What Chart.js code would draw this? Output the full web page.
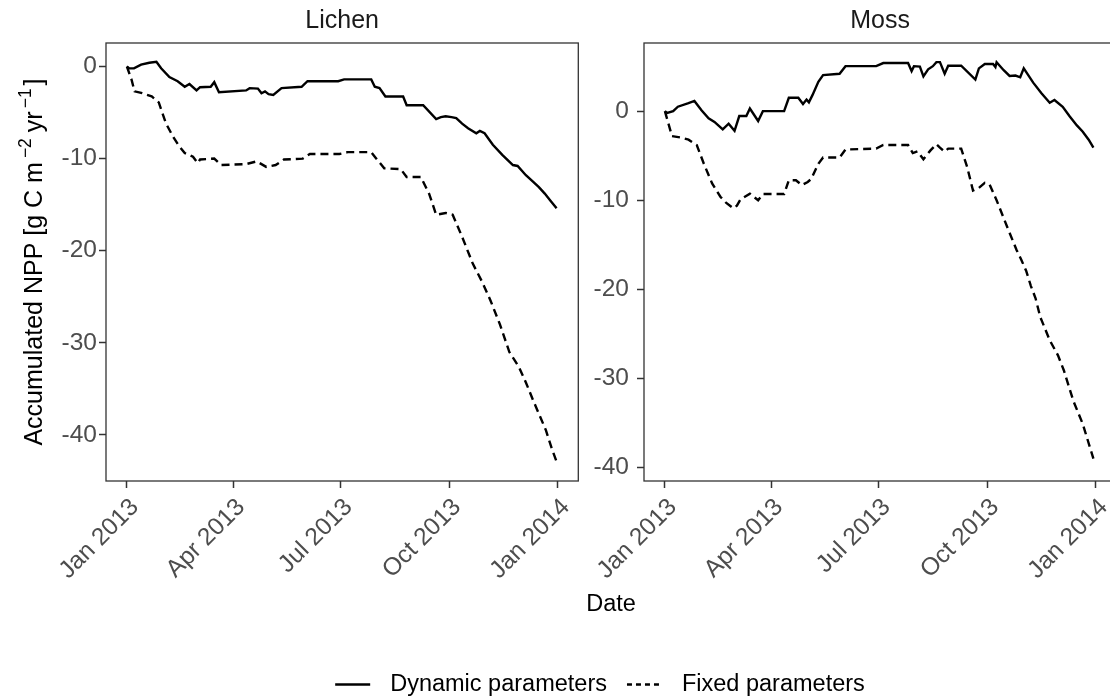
<!DOCTYPE html>
<html>
<head>
<meta charset="utf-8">
<title>Accumulated NPP</title>
<script src="https://cdn.jsdelivr.net/npm/chart.js@4/dist/chart.umd.min.js"></script>
<style>
  html, body {margin: 0; padding: 0; background: #fff;}
  #fig {position: relative; width: 1110px; height: 700px; overflow: hidden; background: #fff;}
  #fig canvas {position: absolute;}
  #xtitle {position: absolute; left: 0; width: 1222px; top: 590px; text-align: center;
    font: 23.5px "Liberation Sans", Arial, sans-serif; line-height: 26px; color: #000;}
</style>
</head>
<body>
<div id="fig">
  <canvas id="lichen" width="600" height="600" style="left:0;top:0"></canvas>
  <canvas id="moss" width="560" height="600" style="left:570px;top:0"></canvas>
  <div id="xtitle">Date</div>
  <canvas id="legend" width="1200" height="60" style="left:0;top:640px"></canvas>
</div>
<script>
const FONT = "'Liberation Sans', Arial, sans-serif";

//Days since 1 Jan 2013
const tickDays = [0, 90, 181, 273, 365];
const tickLabels = ["Jan 2013", "Apr 2013", "Jul 2013", "Oct 2013", "Jan 2014"];
const yTicks = [0, -10, -20, -30, -40];
const seriesNames = ["Dynamic parameters", "Fixed parameters"];

const lichenDynDays = [0, 2, 6, 12, 19, 25, 29, 36, 43, 49, 53, 59, 62, 71, 74, 78, 101, 104, 111, 114, 117, 120, 124, 131,
	148, 153, 179, 184, 207, 210, 214, 219, 234, 237, 251, 262, 266, 270, 275, 279, 284, 289, 296, 299, 303, 310, 318,
	327, 331, 338, 344, 349, 354, 359, 364];
const lichenDynVals = [0, -0.2, -0.2, 0.2, 0.4, 0.5, -0.2, -1.15, -1.6, -2.2, -1.9, -2.6, -2.25, -2.2, -1.7, -2.8, -2.6,
	-2.35, -2.4, -2.9, -2.7, -3.0, -3.1, -2.35, -2.2, -1.6, -1.6, -1.4, -1.4, -2.2, -2.35, -3.25, -3.25, -4.2, -4.2, -5.7,
	-5.5, -5.4, -5.5, -5.6, -6.2, -6.7, -7.25, -7.0, -7.25, -8.5, -9.6, -10.7, -10.8, -11.8, -12.5, -13.1, -13.8, -14.6, -15.4];

const lichenFixDays = [0, 4, 6.5, 13, 21, 27, 33, 39, 44, 49, 56, 60, 62, 74, 80, 101, 110, 114, 118, 126, 133, 149, 155,
	180, 187, 207, 211, 218, 232, 237, 249, 256, 262, 270, 276, 284, 293, 301, 308, 316, 324, 328, 332, 338, 344, 350, 355,
	360, 364];
const lichenFixVals = [0, -1.45, -2.7, -2.9, -3.25, -3.9, -6.15, -7.6, -8.6, -9.4, -9.8, -10.5, -10.1, -10.0, -10.7, -10.6,
	-10.3, -10.6, -10.9, -10.7, -10.1, -10.0, -9.5, -9.5, -9.3, -9.3, -9.95, -11.05, -11.15, -12.0, -12.0, -13.8, -16.1,
	-15.9, -16.1, -18.5, -21.4, -23.4, -25.4, -28.0, -31.0, -31.8, -32.6, -34.3, -36.2, -38.0, -39.5, -41.5, -42.9];

const mossDynDays = [0, 2, 7, 11, 20, 25, 31, 37, 42, 49, 54, 59, 63, 69, 72, 79, 83, 101, 105, 113, 117, 120, 122, 125,
	130, 134, 148, 153, 179, 185, 206, 209, 211, 216, 219, 223, 227, 230, 233, 237, 240, 251, 263, 266, 271, 278, 280, 281,
	287, 292, 297, 301, 304, 312, 319, 326, 330, 337, 343, 349, 354, 359, 363];
const mossDynVals = [0, -0.2, 0, 0.5, 0.9, 1.15, 0.1, -0.8, -1.2, -2.05, -1.4, -2.2, -0.55, -0.55, 0.3, -1.1, 0, 0, 1.5,
	1.5, 0.8, 1.3, 1.0, 1.8, 3.3, 4.05, 4.2, 5.05, 5.05, 5.4, 5.4, 4.5, 5.05, 5.0, 3.9, 4.7, 5.05, 5.5, 5.5, 4.2, 5.1, 5.1,
	3.55, 4.8, 5.3, 5.3, 4.95, 5.5, 4.6, 3.95, 4.0, 3.8, 4.8, 3.2, 2.0, 0.95, 1.25, 0.5, -0.6, -1.6, -2.3, -3.2, -4.1];

const mossFixDays = [0, 3, 6, 13, 20, 27, 33, 40, 47, 52, 58, 61, 64, 72, 79, 83, 101, 105, 111, 116, 121, 124, 130, 134,
	148, 153, 179, 185, 206, 210, 214, 219, 225, 230, 233, 237, 240, 251, 256, 261, 266, 271, 275, 281, 290, 298, 302, 306,
	310, 314, 318, 326, 333, 338, 346, 354, 363];
const mossFixVals = [0, -1.4, -2.8, -2.95, -3.2, -3.8, -5.9, -8.1, -9.6, -10.3, -10.9, -10.6, -9.9, -9.25, -10.0, -9.3,
	-9.3, -7.75, -7.75, -8.3, -7.95, -7.6, -5.9, -5.2, -5.2, -4.3, -4.2, -3.8, -3.8, -4.7, -4.5, -5.4, -4.4, -3.7, -4.1,
	-4.55, -4.2, -4.2, -6.25, -8.9, -8.6, -8.05, -8.2, -10.0, -13.0, -15.6, -16.7, -17.9, -19.6, -21.0, -23.1, -25.7,
	-27.4, -29.1, -32.5, -35.1, -39.0];

const X_MIN = -17.7, X_MAX = 382.4;
const TEXT = 23.5;
const TICK_TEXT = 24.5;
const LINE_W = 2.4;
const DASH = [8, 5];

function pts(days, vals) {
	return days.map((d, i) => ({x: d, y: vals[i]}));
}

//Box round the panel, like a ggplot panel.border
const panelBorder = {
	id: "panelBorder",
	afterDraw(chart) {
		const {ctx, chartArea: a} = chart;
		ctx.save();
		ctx.strokeStyle = "#333";
		ctx.lineWidth = 1.3;
		ctx.strokeRect(a.left, a.top, a.right - a.left, a.bottom - a.top);
		ctx.restore();
	},
};

function stripLabel(text) {
	return {
		id: "stripLabel",
		afterDraw(chart) {
			const {ctx, chartArea: a} = chart;
			ctx.save();
			ctx.font = "25px " + FONT;
			ctx.fillStyle = "#1a1a1a";
			ctx.textAlign = "center";
			ctx.textBaseline = "alphabetic";
			ctx.fillText(text, (a.left + a.right) / 2, a.top - 15);
			ctx.restore();
		},
	};
}

//Rotated y title with superscript units
const yTitle = {
	id: "yTitle",
	afterDraw(chart) {
		const {ctx, chartArea: a} = chart;
		const big = 25, sup = 17.5, rise = 11;
		const parts = [
			["Accumulated NPP [g C m", big, 0, 0],
			["\u22122", sup, rise, 4],
			["yr", big, 0, 6],
			["\u22121", sup, rise, 3],
			["]", big, 0, 3],
		];
		ctx.save();
		ctx.fillStyle = "#000";
		ctx.textBaseline = "alphabetic";
		ctx.textAlign = "left";
		let total = 0;
		const widths = parts.map(([t, size, , gap]) => {
			ctx.font = size + "px " + FONT;
			const w = ctx.measureText(t).width + gap;
			total += w;
			return w;
		});
		ctx.translate(42, (a.top + a.bottom) / 2);
		ctx.rotate(-Math.PI / 2);
		let x = -total / 2;
		parts.forEach(([t, size, r, gap], i) => {
			ctx.font = size + "px " + FONT;
			ctx.fillText(t, x + gap, -r);
			x += widths[i];
		});
		ctx.restore();
	},
};

const tickGrid = {drawOnChartArea: false, drawTicks: true, tickLength: 7, tickWidth: 1.5, tickColor: "#333"};

function panel(id, name, yMin, yMax, yWidth, yPad, padRight, dyn, fix, extra) {
	return new Chart(document.getElementById(id), {
		type: "line",
		data: {
			datasets: [
				{label: seriesNames[0], data: dyn, borderColor: "#000", borderWidth: LINE_W, pointRadius: 0, tension: 0, fill: false},
				{label: seriesNames[1], data: fix, borderColor: "#000", borderWidth: LINE_W, borderDash: DASH, pointRadius: 0, tension: 0, fill: false},
			],
		},
		options: {
			responsive: false,
			animation: false,
			events: [],
			layout: {padding: {top: 43, right: padRight, bottom: 0, left: 0}},
			plugins: {legend: {display: false}, tooltip: {enabled: false}},
			scales: {
				x: {
					type: "linear", min: X_MIN, max: X_MAX,
					afterBuildTicks: s => {s.ticks = tickDays.map(v => ({value: v}));},
					afterFit: s => {s.height = 600 - 481; s.paddingLeft = 0; s.paddingRight = 0;},
					grid: tickGrid,
					border: {display: false},
					ticks: {
						autoSkip: false, minRotation: 45, maxRotation: 45, padding: 5, labelOffset: 8,
						color: "#4d4d4d", font: {family: FONT, size: TICK_TEXT},
						callback: (v, i) => tickLabels[i],
					},
				},
				y: {
					type: "linear", min: yMin, max: yMax,
					afterBuildTicks: s => {s.ticks = yTicks.map(v => ({value: v}));},
					afterFit: s => {s.width = yWidth; s.paddingTop = 0; s.paddingBottom = 0;},
					grid: tickGrid,
					border: {display: false},
					ticks: {padding: yPad, color: "#4d4d4d", font: {family: FONT, size: TICK_TEXT}},
				},
			},
		},
		plugins: [panelBorder, stripLabel(name), ...extra],
	});
}

panel("lichen", "Lichen", -45.0, 2.55, 106, 2, 600 - 578.3,
	pts(lichenDynDays, lichenDynVals), pts(lichenFixDays, lichenFixVals), [yTitle]);
panel("moss", "Moss", -41.5, 7.65, 644 - 570, 8, 560 - (1116.3 - 570),
	pts(mossDynDays, mossDynVals), pts(mossFixDays, mossFixVals), []);

//Shared key along the bottom: line sample, then label, items centred as a row
const keyRow = {
	id: "keyRow",
	afterDraw(chart) {
		const {ctx} = chart;
		const sets = chart.data.datasets;
		const keyW = 35, keyGap = 20, itemGap = 20, cx = 600, cy = 44.5;
		ctx.save();
		ctx.font = TEXT + "px " + FONT;
		const tw = sets.map(ds => ctx.measureText(ds.label).width);
		const total = tw.reduce((s, w) => s + keyW + keyGap + w, 0) + itemGap * (sets.length - 1);
		let x = cx - total / 2;
		sets.forEach((ds, i) => {
			ctx.strokeStyle = ds.borderColor;
			ctx.lineWidth = ds.borderWidth;
			ctx.setLineDash(ds.borderDash || []);
			ctx.beginPath();
			ctx.moveTo(x, cy);
			ctx.lineTo(x + keyW, cy);
			ctx.stroke();
			ctx.fillStyle = "#000";
			ctx.textAlign = "left";
			ctx.textBaseline = "middle";
			ctx.fillText(ds.label, x + keyW + keyGap, cy);
			x += keyW + keyGap + tw[i] + itemGap;
		});
		ctx.restore();
	},
};

new Chart(document.getElementById("legend"), {
	type: "line",
	data: {
		datasets: [
			{label: seriesNames[0], data: [], borderColor: "#000", borderWidth: LINE_W},
			{label: seriesNames[1], data: [], borderColor: "#000", borderWidth: LINE_W, borderDash: [5, 4]},
		],
	},
	options: {
		responsive: false,
		animation: false,
		events: [],
		scales: {x: {display: false}, y: {display: false}},
		plugins: {legend: {display: false}, tooltip: {enabled: false}},
	},
	plugins: [keyRow],
});
</script>
</body>
</html>
